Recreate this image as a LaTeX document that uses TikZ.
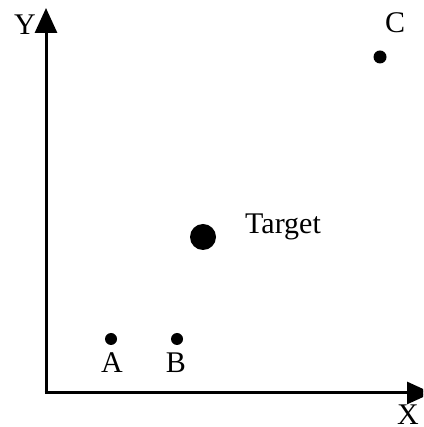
\documentclass[tikz,border=0pt]{standalone}
\usepackage{fontspec}
\setmainfont{Liberation Serif}
\usetikzlibrary{arrows.meta}
\begin{document}
\begin{tikzpicture}[x=1pt,y=1pt,
  axis/.style={line width=3pt,-{Triangle[length=25pt,width=22pt]}},
  dot/.style={circle,fill=black,inner sep=0pt},
  lbl/.style={inner sep=0pt,font=\fontsize{30}{36}\selectfont}]
\clip (0,0) rectangle (423,427);
\useasboundingbox (0,0) rectangle (423,427);
\coordinate (O) at (46,34);
\coordinate (Ytip) at (46,419);
\coordinate (Xtip) at (432,34);
\draw[axis] (O) -- (Ytip);
\draw[axis] ([xshift=-1.5pt]O) -- (Xtip);
\node[dot,minimum size=12pt] (A) at (111,88) {};
\node[dot,minimum size=12pt] (B) at (177,88) {};
\node[dot,minimum size=26pt] (T) at (203,190) {};
\node[dot,minimum size=13pt] (C) at (380,370) {};
\node[lbl,anchor=base] (LA) at (112,54) {A};
\node[lbl,anchor=base] (LB) at (176,54) {B};
\node[lbl,anchor=base] (LC) at (395,394) {C};
\node[lbl,anchor=base west] (LT) at (245,193) {Target};
\node[lbl,anchor=base] (LX) at (408,2) {X};
\node[lbl,anchor=base] (LY) at (25,392) {Y};
\end{tikzpicture}
\end{document}
